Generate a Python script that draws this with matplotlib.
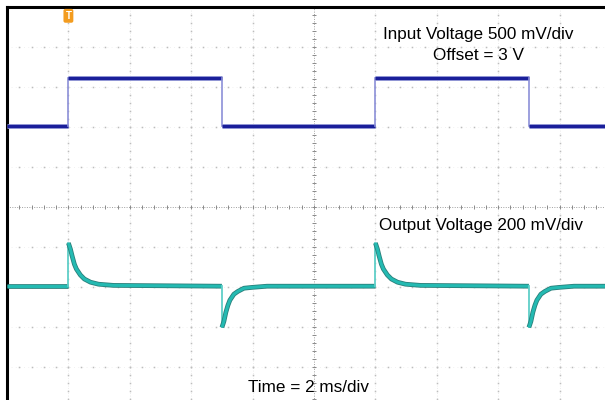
import numpy as np
import matplotlib
matplotlib.use("Agg")
import matplotlib.pyplot as plt

plt.rcParams['font.family'] = ['Liberation Sans', 'DejaVu Sans']

# ---- data (time in ms, amplitude in screen divisions from bottom) ----
edge_times = [-8.0, -3.0, 2.0, 7.0]           # rising, falling, rising, falling
edge_kind = ['rise', 'fall', 'rise', 'fall']
input_low = 7.02
input_high = 8.22
output_base = 3.02

# output transient after an edge: time offset (ms) and deviation (div)
decay_dt = [0.0, 0.065, 0.13, 0.195, 0.26, 0.39, 0.52, 0.72, 0.98, 1.47]
rise_dev = [1.08, 0.93, 0.73, 0.55, 0.43, 0.28, 0.18, 0.10, 0.05, 0.02]
fall_dev = [-1.03, -0.88, -0.65, -0.48, -0.35, -0.20, -0.13, -0.05, -0.03, 0.0]

t_start, t_end = -10.0, 10.5

fig = plt.figure(figsize=(6.05, 4.0), dpi=100)
ax = fig.add_axes([7/605, -7/400, 614/605, 400/400])
ax.set_xlim(-10, 10)
ax.set_ylim(0, 10)
ax.set_xticks([]); ax.set_yticks([])
for s in ['left', 'top']:
    ax.spines[s].set_linewidth(2.2)
for s in ['right', 'bottom']:
    ax.spines[s].set_visible(False)

# ---- graticule ----
gcol = '#bdbdbd'
for xd in np.arange(-10, 10.01, 2.0):
    if abs(xd) < 1e-9:
        continue
    ax.axvline(xd, color='#e6e6e6', lw=0.6, ls=(0, (1, 2)), zorder=0)
    ax.plot(np.full(51, xd), np.arange(0, 10.01, 0.2), ls='none', marker='s',
            ms=1.1, mec='none', mfc=gcol, zorder=0)
for yd in np.arange(0, 10.01, 1.0):
    if abs(yd - 5) < 1e-9:
        continue
    ax.axhline(yd, color='#ececec', lw=0.6, ls=(0, (1, 4)), zorder=0)
    ax.plot(np.arange(-10, 10.01, 0.4), np.full(51, yd), ls='none', marker='s',
            ms=1.1, mec='none', mfc=gcol, zorder=0)
# centre crosshair with minor ticks
ax.axhline(5, color='#a0a0a0', lw=0.7, ls=(0, (1, 1.5)), zorder=0)
ax.axvline(0, color='#a0a0a0', lw=0.7, ls=(0, (1, 1.5)), zorder=0)
ax.plot(np.arange(-10, 10.01, 0.4), np.full(51, 5.0), ls='none', marker='|',
        ms=3.5, mew=0.7, color='#8a8a8a', zorder=0)
ax.plot(np.full(51, 0.0), np.arange(0, 10.01, 0.2), ls='none', marker='_',
        ms=3.5, mew=0.7, color='#8a8a8a', zorder=0)

# ---- input trace: thick flat levels, thin fast edges ----
bounds = [t_start] + edge_times + [t_end]
level = input_low
for i, t in enumerate(bounds[:-1]):
    if i > 0:
        new = input_high if edge_kind[i - 1] == 'rise' else input_low
        ax.plot([t, t], [level, new], color='#8c90d8', lw=1.2, zorder=3)
        level = new
    ax.plot([t, bounds[i + 1]], [level, level], color='#9096d6', lw=3.4,
            solid_capstyle='butt', zorder=3)
    ax.plot([t, bounds[i + 1]], [level, level], color='#1a1f9a', lw=2.3,
            solid_capstyle='butt', zorder=3)

# ---- output trace ----
ax.plot([t_start, edge_times[0]], [output_base, output_base],
        color='#2a7f7a', lw=3.4, solid_capstyle='butt', zorder=3)
ax.plot([t_start, edge_times[0]], [output_base, output_base],
        color='#24bab2', lw=2.2, solid_capstyle='butt', zorder=3)
for i, (t, k) in enumerate(zip(edge_times, edge_kind)):
    dev = rise_dev if k == 'rise' else fall_dev
    ax.plot([t, t], [output_base, output_base + dev[0]], color='#5fcfc8',
            lw=1.3, zorder=3)
    nxt = edge_times[i + 1] if i + 1 < len(edge_times) else t_end
    st = [t + dt for dt in decay_dt] + [nxt]
    sv = [output_base + d for d in dev] + [output_base]
    ax.plot(st, sv, color='#2a7f7a', lw=3.4, solid_capstyle='butt', zorder=3)
    ax.plot(st, sv, color='#24bab2', lw=2.2, solid_capstyle='butt', zorder=3)

# ---- trigger marker ----
ax.annotate('T', xy=(-8.0, 0.978), xycoords=('data', 'axes fraction'),
            ha='center', va='center', fontsize=7, color='white', fontweight='bold',
            bbox=dict(boxstyle='round,pad=0.2', fc='#f39c1f', ec='none'), zorder=5)

# ---- labels ----
fs = 12.3
def fx(px):
    return px / 605
def fy(py):
    return 1 - py / 400
fig.text(fx(478), fy(34), 'Input Voltage 500 mV/div', ha='center', va='center', fontsize=fs)
fig.text(fx(478), fy(56), 'Offset = 3 V', ha='center', va='center', fontsize=fs)
fig.text(fx(481), fy(226), 'Output Voltage 200 mV/div', ha='center', va='center', fontsize=fs)
fig.text(fx(309), fy(387), 'Time = 2 ms/div', ha='center', va='center', fontsize=fs)

fig.savefig('out.png', dpi=100)
